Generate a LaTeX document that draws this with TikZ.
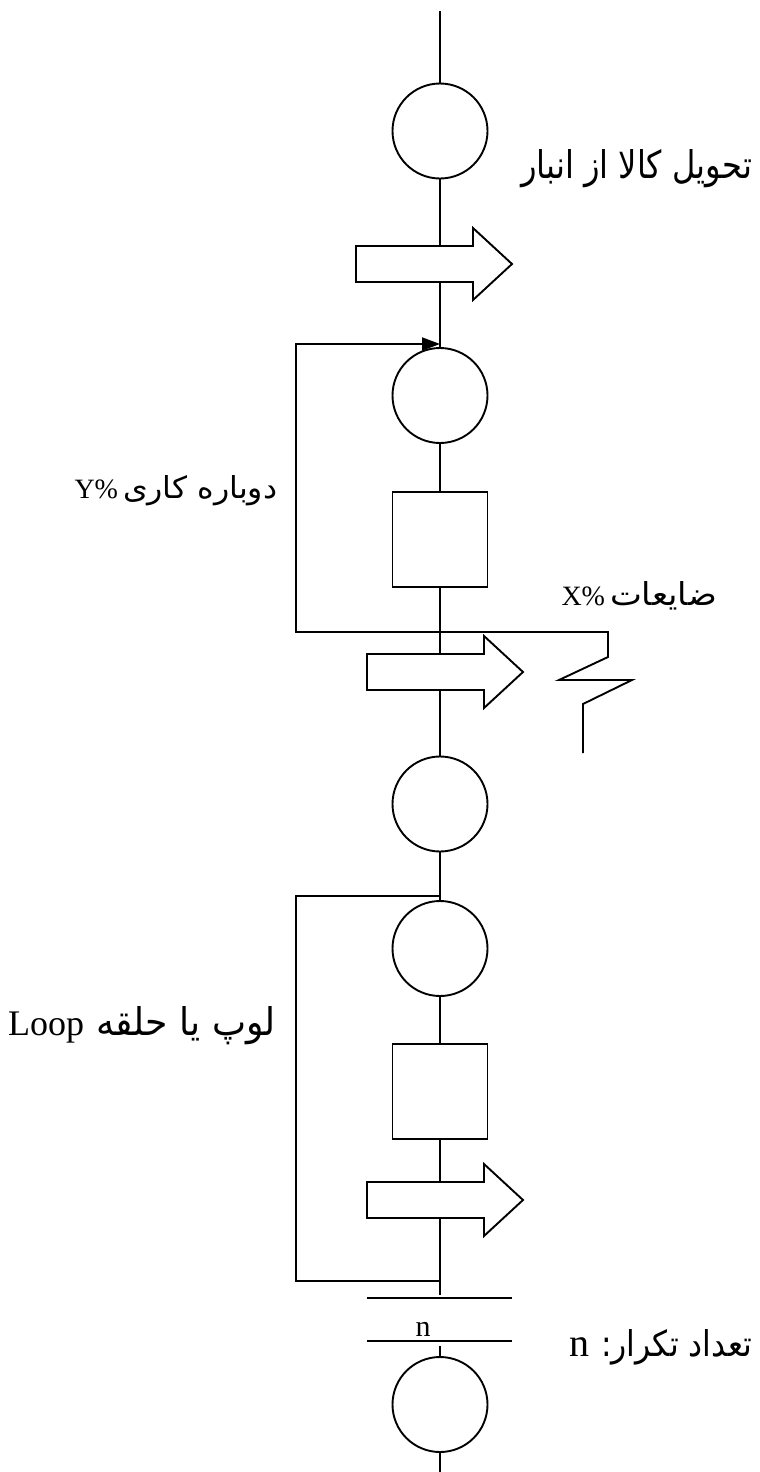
\documentclass[tikz,border=0pt]{standalone}
\usepackage{fontspec}
\setmainfont{Liberation Serif}
\newfontfamily\arabicfont[Script=Arabic]{DejaVu Sans}
\TeXXeTstate=1
\usetikzlibrary{arrows.meta}
\tikzset{
  proc/.style={circle, draw, fill=white, minimum size=47.5pt, inner sep=0pt},
  opbox/.style={rectangle, draw, fill=white, minimum width=47.5pt, minimum height=47.5pt, inner sep=0pt},
  lbl/.style={inner sep=0pt, anchor=base east},
  blockarrow/.pic={\draw[fill=white] (0,-18) -- (117,-18) -- (117,-36) -- (156,0) -- (117,36) -- (117,18) -- (0,18) -- cycle;}
}
\begin{document}
\begin{tikzpicture}[x=0.5pt,y=-0.5pt,line width=0.95pt]
\useasboundingbox (0,0) rectangle (760,1472);
% process nodes
\node[proc] (c1) at (440,131) {};
\node[proc] (c2) at (440,395.5) {};
\node[opbox] (r1) at (440,539.5) {};
\node[proc] (c3) at (440,804) {};
\node[proc] (c4) at (440,948.5) {};
\node[opbox] (r2) at (440,1091.5) {};
\node[proc] (c5) at (440,1404.5) {};
% coordinates
\coordinate (top) at (440,11);
\coordinate (barA) at (440,1295);
\coordinate (barB) at (440,1346);
\coordinate (bot) at (440,1472);
\coordinate (j1) at (440,344);
\coordinate (l1a) at (296,344);
\coordinate (l1b) at (296,632);
\coordinate (z0) at (608,632);
\coordinate (z1) at (608,657);
\coordinate (z2) at (559,680);
\coordinate (z3) at (632,680);
\coordinate (z4) at (583,704);
\coordinate (z5) at (583,753);
\coordinate (j2) at (440,896);
\coordinate (l2a) at (296,896);
\coordinate (l2b) at (296,1281);
\coordinate (j3) at (440,1281);
\coordinate (b1l) at (367,1298);
\coordinate (b1r) at (512,1298);
\coordinate (b2l) at (367,1341);
\coordinate (b2r) at (512,1341);
% spine
\draw (top) -- (c1) -- (c2) -- (r1) -- (c3) -- (c4) -- (r2) -- (barA);
\draw (barB) -- (c5) -- (bot);
% rework loop with scrap
\draw[-{Triangle[length=9pt,width=6.5pt]}] (z5) -- (z4) -- (z3) -- (z2) -- (z1) -- (z0) -- (l1b) -- (l1a) -- (j1);
% repeat loop
\draw (j2) -- (l2a) -- (l2b) -- (j3);
% repetition bars
\draw (b1l) -- (b1r);
\draw (b2l) -- (b2r);
% transport arrows
\pic (a1) at (356,264) {blockarrow};
\pic (a2) at (367,672) {blockarrow};
\pic (a3) at (367,1200) {blockarrow};
% labels
\node[lbl] (t1) at (753,178) {\resizebox{115.5pt}{14.5pt}{\arabicfont\beginR تحویل کالا از انبار\endR}};
\node[lbl] (t2) at (278,498) {\fontsize{14}{15}\selectfont Y\%\hspace{2.5pt}\resizebox{77pt}{11.5pt}{\arabicfont\beginR دوباره کاری\endR}};
\node[lbl] (t3) at (718,605) {\fontsize{14}{15}\selectfont X\%\hspace{2.5pt}\resizebox{53.5pt}{12pt}{\arabicfont\beginR ضایعات\endR}};
\node[lbl] (t4) at (277,1035) {\fontsize{18}{20}\selectfont Loop\hspace{6pt}\resizebox{90pt}{14.5pt}{\arabicfont\beginR لوپ یا حلقه\endR}};
\node[lbl] (t5) at (753,1356) {\fontsize{20}{22}\selectfont n\hspace{6pt}\resizebox{75.5pt}{13.5pt}{\arabicfont\beginR تعداد تکرار:\endR}};
\node[inner sep=0pt, anchor=base] (tn) at (423,1336) {\fontsize{15}{17}\selectfont n};
\end{tikzpicture}
\end{document}
